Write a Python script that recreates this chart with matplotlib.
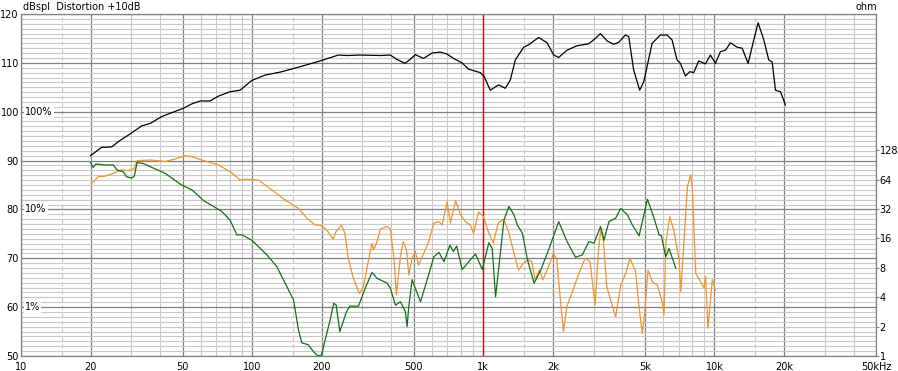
import matplotlib
matplotlib.use("Agg")
import matplotlib.pyplot as plt
from matplotlib.ticker import NullFormatter, FixedLocator
import numpy as np

plt.rcParams.update({
    "font.family": "DejaVu Sans",
    "font.size": 7,
})

# ---- data (Hz, dB) ----
spl_f = [20, 22.3, 24.7, 26.4, 29.1, 33.3, 36.2, 40.6, 44.9, 50.4, 54.8, 59.6,
         65.8, 71.5, 80.3, 88.7, 99.7, 113.8, 132, 161, 197, 236, 257, 293,
         358, 396, 423, 459, 488, 508, 551, 600, 652, 697, 744, 809, 864, 971,
         1009, 1072, 1164, 1245, 1309, 1376, 1495, 1571, 1736, 1888, 2017,
         2119, 2303, 2545, 2857, 3055, 3210, 3431, 3665, 3853, 4118, 4256,
         4474, 4750, 4944, 5375, 5837, 6238, 6556, 6892, 7126, 7492, 7823,
         8137, 8551, 9141, 9608, 10100, 10617, 11160, 11730, 12540, 13180,
         13990, 14800, 15450, 16350, 17180, 17770, 18370, 19310, 20280]
spl_db = [91.0, 92.7, 92.8, 93.9, 95.2, 97.1, 97.6, 99.0, 99.8, 100.7, 101.6,
          102.2, 102.2, 103.2, 104.1, 104.4, 106.4, 107.5, 108.1, 109.2, 110.4,
          111.6, 111.5, 111.6, 111.5, 111.6, 110.7, 109.9, 110.9, 111.7, 110.9,
          112.0, 112.2, 111.8, 110.9, 110.0, 108.7, 108.0, 107.2, 104.4, 105.5,
          104.8, 106.5, 110.6, 113.2, 113.7, 115.2, 114.1, 111.6, 111.1, 112.6,
          113.5, 113.9, 115.0, 116.0, 114.5, 113.8, 114.2, 115.7, 115.4, 108.5,
          104.4, 106.1, 114.0, 115.7, 115.7, 114.7, 110.6, 109.9, 107.3, 108.2,
          108.0, 110.4, 109.8, 111.6, 109.9, 112.3, 112.6, 114.1, 113.2, 113.0,
          109.9, 114.7, 118.2, 114.7, 110.6, 110.2, 104.4, 104.1, 101.4]

h2_f = [20, 20.5, 21.1, 23.1, 25.1, 26.0, 27.7, 28.6, 30.1, 30.9, 31.8, 33.8,
        36.8, 42.0, 49.5, 54.9, 61.7, 67.0, 73.9, 80.3, 85.9, 90.3, 99.7,
        115.8, 127.9, 141.3, 151, 158.7, 164, 175, 184, 193, 199.5, 207,
        217.5, 225.4, 231, 239.5, 247.6, 256, 265, 288.5, 308.5, 330, 347,
        384, 396, 417, 438, 460, 468, 476, 492, 535, 572, 611, 643, 676, 717,
        742, 767, 810, 925, 990, 1057, 1093, 1130, 1168, 1228, 1291, 1357,
        1404, 1477, 1553, 1659, 1773, 1926, 2120, 2305, 2505, 2681, 2864,
        3011, 3218, 3326, 3496, 3738, 3930, 4202, 4417, 4722, 5131, 5480,
        5760, 5898, 6156, 6360, 6800]
h2_db = [89.6, 88.6, 89.3, 89.1, 89.1, 88.1, 87.7, 86.7, 86.4, 86.8, 89.6, 89.4,
         88.6, 87.4, 85.0, 84.0, 81.8, 80.8, 79.6, 77.8, 74.8, 74.8, 73.7,
         70.7, 68.3, 64.2, 61.5, 55.3, 52.7, 52.3, 50.9, 50.0, 50.2, 53.3,
         57.4, 60.8, 60.4, 55.0, 57.0, 59.1, 60.2, 60.2, 63.9, 67.1, 65.9,
         64.9, 63.9, 60.4, 61.1, 59.1, 56.0, 60.1, 65.6, 61.1, 65.6, 70.3,
         71.2, 69.3, 72.7, 71.4, 72.5, 67.7, 70.9, 67.7, 73.2, 72.0, 62.1,
         68.3, 77.8, 80.6, 78.9, 76.8, 75.1, 69.7, 64.9, 67.6, 72.0, 77.5,
         73.4, 70.2, 70.7, 73.4, 73.1, 76.5, 73.7, 77.5, 78.2, 80.2, 78.9,
         76.8, 74.6, 82.1, 78.2, 74.8, 74.6, 70.3, 72.0, 68.0]

h3_f = [20.1, 20.6, 21.6, 23.1, 25.1, 27.3, 29.1, 30.9, 31.8, 36.8, 42.0, 46.3,
        51.2, 54.9, 61.7, 71.5, 81.6, 88.7, 94.9, 106.6, 121.7, 139.1, 158.7,
        172.6, 187.6, 197, 210.5, 224, 231, 243.5, 252, 260.5, 274, 291, 303,
        319, 330, 335, 347, 359, 384, 396, 410, 421, 428, 438, 450, 465, 476,
        492, 508, 525, 552, 580, 611, 643, 664, 697, 721, 759, 797, 837, 879,
        908, 954, 1001, 1051, 1104, 1161, 1223, 1286, 1351, 1420, 1493, 1569,
        1622, 1677, 1750, 1810, 1914, 2012, 2080, 2150, 2222, 2297, 2414,
        2580, 2757, 2897, 3046, 3150, 3225, 3310, 3420, 3738, 3930, 4130,
        4310, 4560, 4715, 4876, 4990, 5160, 5385, 5660, 5945, 6050, 6160,
        6410, 6690, 7030, 7150, 7390, 7640, 7900, 8030, 8300, 8720, 9010,
        9160, 9370, 9560, 9790, 10100]
h3_db = [85.3, 85.7, 86.7, 86.8, 87.4, 88.1, 87.9, 88.4, 90.0, 90.1, 89.8, 90.3,
         91.0, 90.8, 90.0, 89.1, 87.5, 86.0, 86.2, 86.0, 84.0, 81.9, 80.2,
         78.2, 76.8, 76.8, 75.8, 73.9, 75.5, 76.8, 75.1, 70.0, 65.9, 62.8,
         64.2, 69.7, 73.1, 71.7, 73.4, 76.0, 76.5, 76.0, 70.3, 62.5, 65.9,
         70.3, 73.4, 71.7, 66.6, 70.0, 71.4, 68.6, 71.0, 73.4, 77.2, 77.5,
         76.8, 81.6, 77.2, 81.8, 78.9, 77.5, 76.8, 75.1, 79.5, 78.5, 75.5,
         73.1, 77.2, 78.0, 75.5, 71.4, 67.6, 69.0, 69.7, 69.3, 65.6, 67.6,
         65.6, 68.3, 71.0, 69.7, 62.1, 55.0, 60.1, 62.8, 66.6, 70.0, 69.3,
         60.4, 71.7, 75.8, 73.7, 64.2, 58.0, 64.5, 66.9, 70.0, 67.3, 60.1,
         54.6, 58.7, 67.6, 65.2, 64.5, 61.1, 58.4, 73.1, 78.5, 75.5, 69.7,
         63.2, 73.7, 84.7, 87.1, 84.0, 66.9, 65.2, 63.9, 66.3, 55.7, 60.1,
         65.6, 63.5]

x_ticks = [10, 20, 50, 100, 200, 500, 1000, 2000, 5000, 10000, 20000, 50000]
x_labels = ["10", "20", "50", "100", "200", "500", "1k", "2k", "5k", "10k",
            "20k", "50kHz"]
ohm_ticks = [1, 2, 4, 8, 16, 32, 64, 128]
pct_levels = [100, 80, 60]
pct_labels = ["100%", "10%", "1%"]

# ---- figure ----
fig = plt.figure(figsize=(8.98, 3.71), dpi=100)
ax = fig.add_axes([21 / 898, 1 - 356 / 371, 855 / 898, 342 / 371])
ax.set_xscale("log")
ax.set_xlim(10, 50000)
ax.set_ylim(50, 120)

decades = [10, 100, 1000, 10000]
minor_x = [d * m for d in decades for m in (3, 4, 6, 7, 8, 9)]
dash_x = [d * 1.5 for d in decades]

ax.xaxis.set_major_locator(FixedLocator(x_ticks))
ax.xaxis.set_minor_locator(FixedLocator(minor_x))
ax.xaxis.set_minor_formatter(NullFormatter())
ax.set_xticklabels(x_labels)
ax.set_yticks(np.arange(50, 121, 10))
ax.set_yticks(np.arange(50, 121, 1), minor=True)

ax.grid(True, which="major", color="#808080", lw=0.9)
ax.grid(True, which="minor", color="#c8c8c8", lw=0.8)
for xv in dash_x:
    ax.axvline(xv, color="#c8c8c8", lw=0.8, ls=(0, (4, 3)), zorder=0.5)
ax.set_axisbelow(True)

ax.tick_params(which="minor", length=0)
ax.tick_params(axis="x", which="major", length=0, pad=4.5)
ax.tick_params(axis="y", which="major", length=0, pad=1.5)
for s in ax.spines.values():
    s.set_color("#808080")
    s.set_linewidth(0.9)

ax.axvline(1000, color="#d01010", lw=1.0, zorder=2)

ax.plot(h3_f, h3_db, color="#f0952a", lw=0.9, zorder=3)
ax.plot(h2_f, h2_db, color="#127012", lw=0.9, zorder=4)
ax.plot(spl_f, spl_db, color="black", lw=0.9, zorder=5)

for lvl, lab in zip(pct_levels, pct_labels):
    ax.text(0.005, lvl, lab, transform=ax.get_yaxis_transform(),
            ha="left", va="center", zorder=6,
            bbox=dict(fc="white", ec="none", pad=0.6))

# impedance scale on the right (1 ohm at 50 dB, 6 dB per doubling)
ax2 = ax.twinx()
ax2.set_yscale("log")
ax2.set_ylim(1, 10 ** 3.5)
ax2.yaxis.set_major_locator(FixedLocator(ohm_ticks))
ax2.yaxis.set_minor_locator(FixedLocator([]))
ax2.set_yticklabels([str(t) for t in ohm_ticks])
ax2.tick_params(axis="y", length=2, color="#808080", pad=0.5)
for s in ax2.spines.values():
    s.set_visible(False)

fig.text(23 / 898, 1 - 7 / 371, "dBspl  Distortion +10dB", ha="left", va="center")
fig.text(877 / 898, 1 - 7 / 371, "ohm", ha="right", va="center")

fig.savefig("out.png", dpi=100)
